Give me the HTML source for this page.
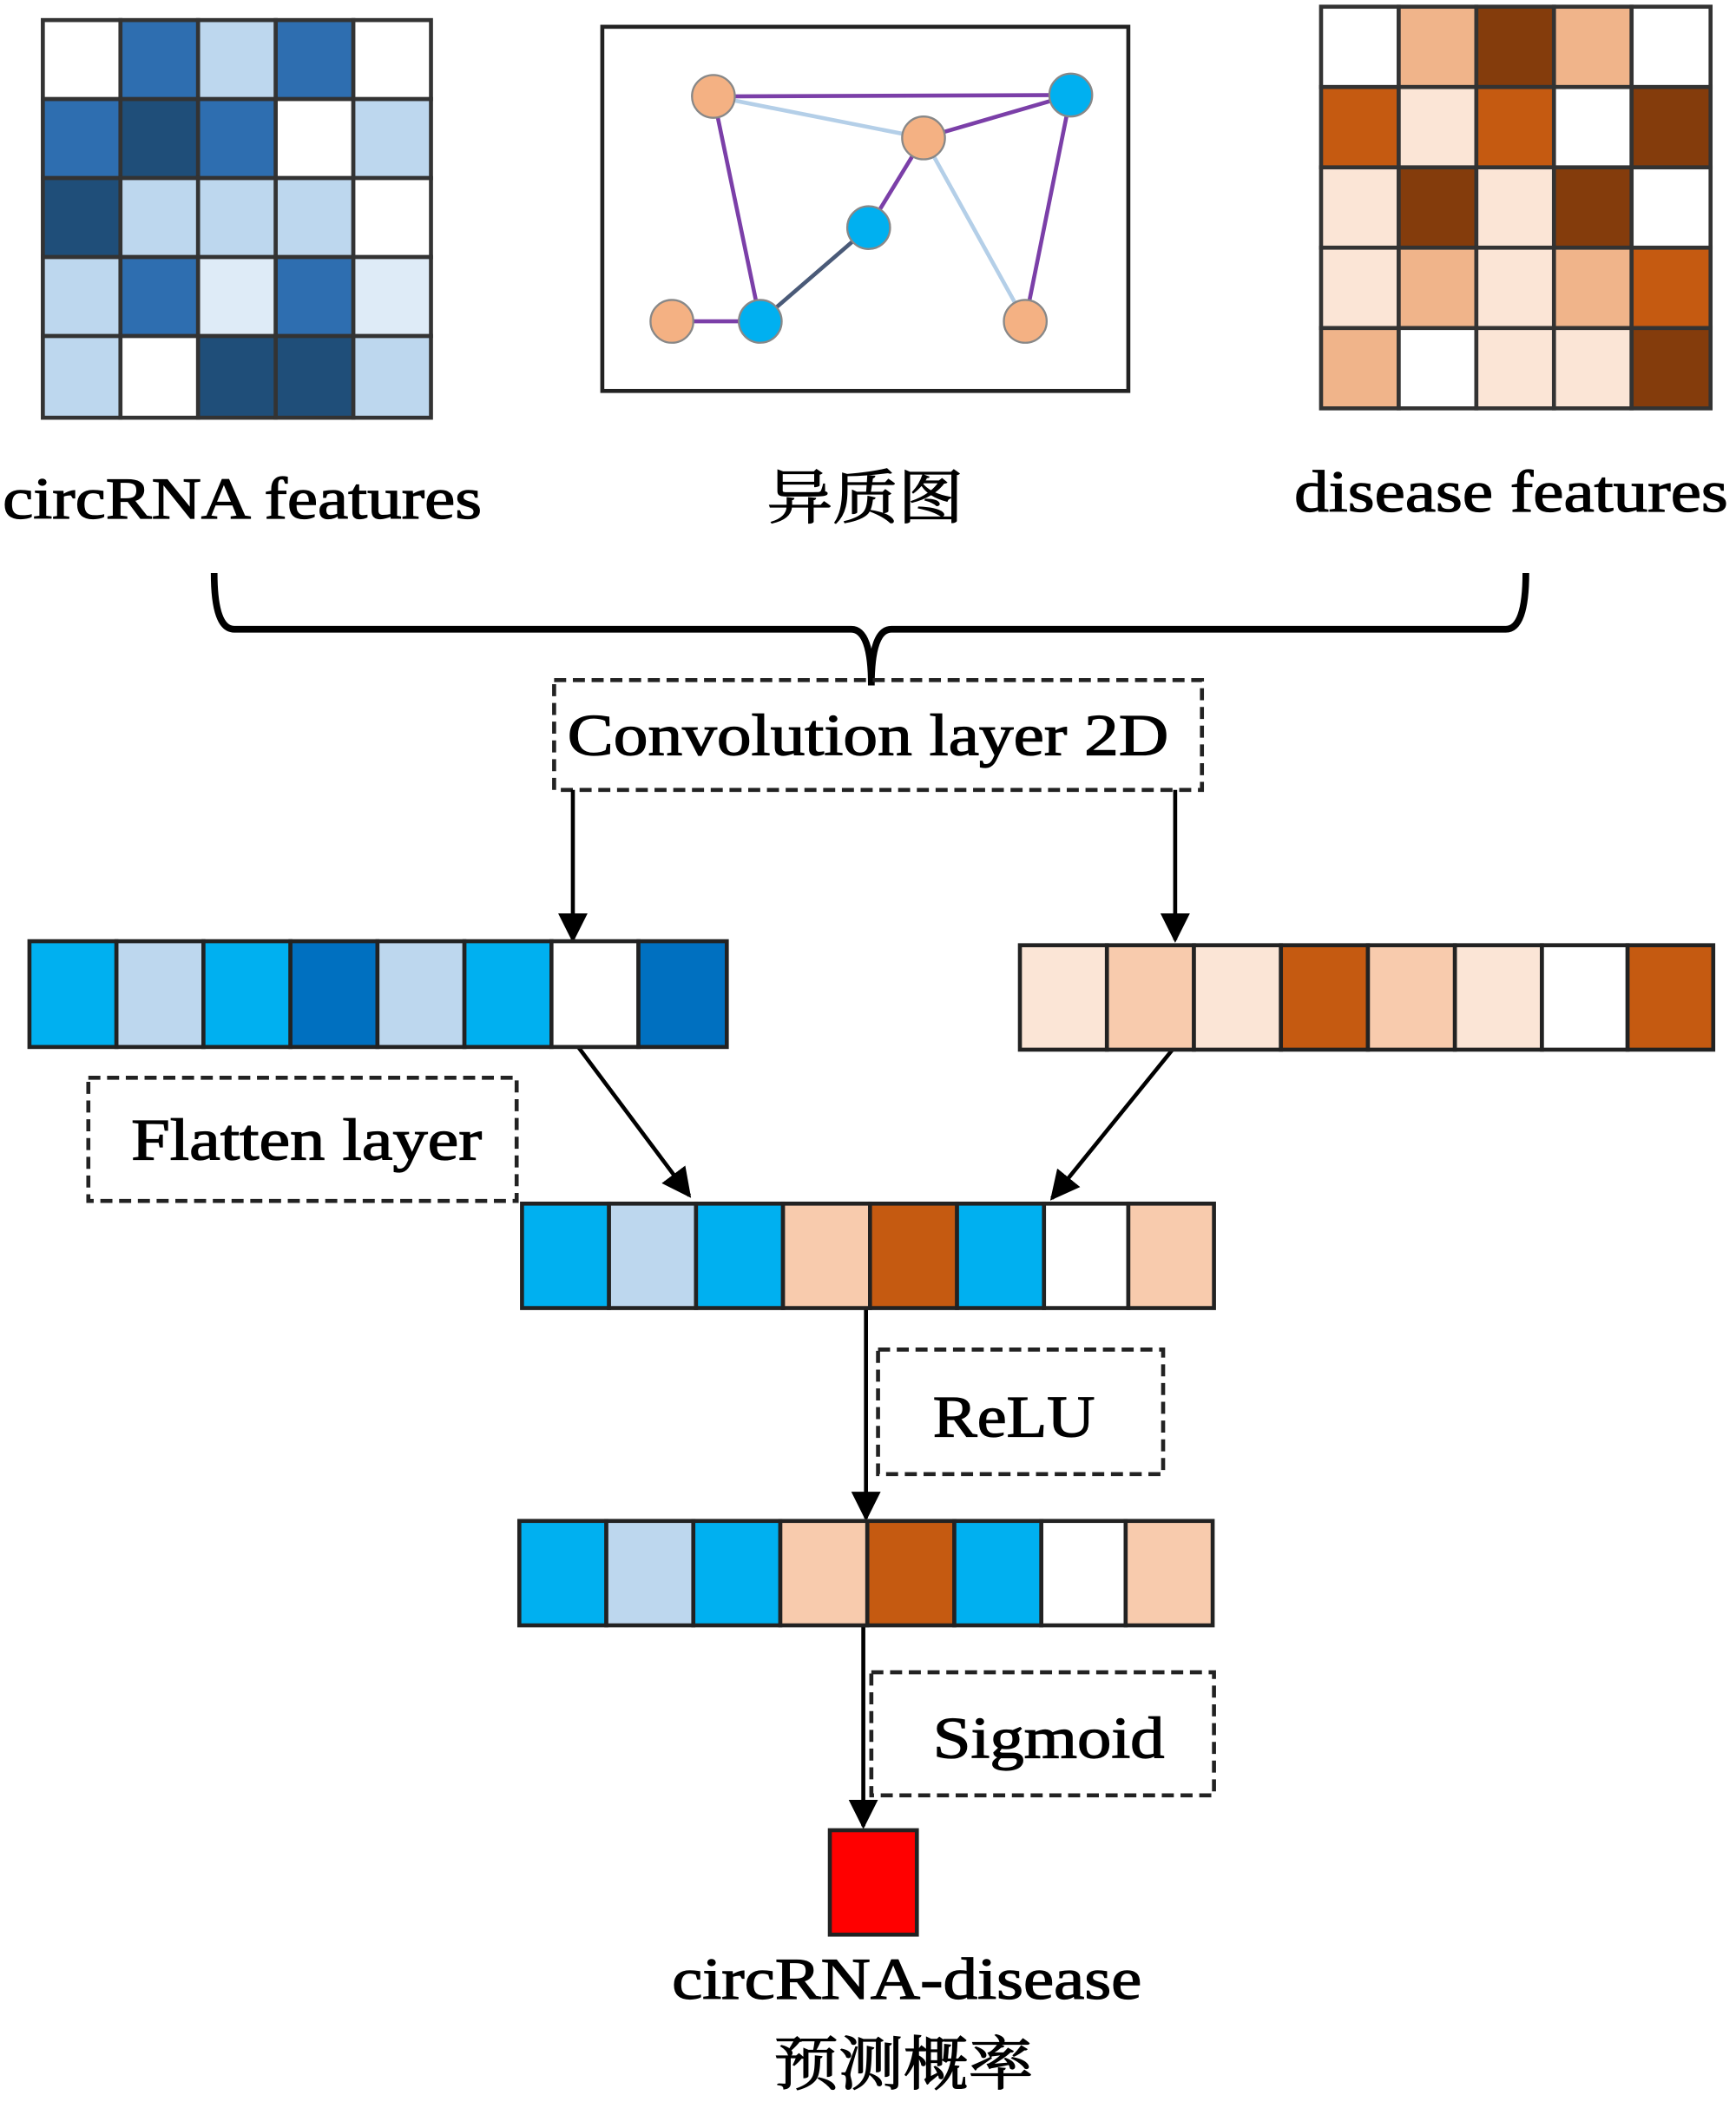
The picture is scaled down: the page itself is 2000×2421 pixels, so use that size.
<!DOCTYPE html>
<html><head><meta charset="utf-8"><style>html,body{margin:0;padding:0;background:#fff}svg{display:block}</style></head>
<body>
<svg width="2000" height="2421" viewBox="0 0 1297 1570" preserveAspectRatio="none" xmlns="http://www.w3.org/2000/svg" font-family="'Liberation Serif','Noto Serif CJK SC',serif">
<defs>
<marker id="a2" viewBox="0 0 10 10" markerWidth="22" markerHeight="22" refX="9" refY="5" orient="auto" markerUnits="userSpaceOnUse"><path d="M0,0 L10,5 L0,10 z" fill="#000"/></marker></defs>
<g stroke="#333" stroke-width="3">
<g transform="translate(32,15)">
<rect x="0" y="0" width="58" height="59" fill="#fff"/><rect x="58" y="0" width="58" height="59" fill="#2e6eb0"/><rect x="116" y="0" width="58" height="59" fill="#bdd7ee"/><rect x="174" y="0" width="58" height="59" fill="#2e6eb0"/><rect x="232" y="0" width="58" height="59" fill="#fff"/>
<rect x="0" y="59" width="58" height="59" fill="#2e6eb0"/><rect x="58" y="59" width="58" height="59" fill="#1f4e79"/><rect x="116" y="59" width="58" height="59" fill="#2e6eb0"/><rect x="174" y="59" width="58" height="59" fill="#fff"/><rect x="232" y="59" width="58" height="59" fill="#bdd7ee"/>
<rect x="0" y="118" width="58" height="59" fill="#1f4e79"/><rect x="58" y="118" width="58" height="59" fill="#bdd7ee"/><rect x="116" y="118" width="58" height="59" fill="#bdd7ee"/><rect x="174" y="118" width="58" height="59" fill="#bdd7ee"/><rect x="232" y="118" width="58" height="59" fill="#fff"/>
<rect x="0" y="177" width="58" height="59" fill="#bdd7ee"/><rect x="58" y="177" width="58" height="59" fill="#2e6eb0"/><rect x="116" y="177" width="58" height="59" fill="#deebf7"/><rect x="174" y="177" width="58" height="59" fill="#2e6eb0"/><rect x="232" y="177" width="58" height="59" fill="#deebf7"/>
<rect x="0" y="236" width="58" height="61" fill="#bdd7ee"/><rect x="58" y="236" width="58" height="61" fill="#fff"/><rect x="116" y="236" width="58" height="61" fill="#1f4e79"/><rect x="174" y="236" width="58" height="61" fill="#1f4e79"/><rect x="232" y="236" width="58" height="61" fill="#bdd7ee"/>
</g>
<g transform="translate(987,5)">
<rect x="0" y="0" width="58" height="60" fill="#fff"/><rect x="58" y="0" width="58" height="60" fill="#f0b48a"/><rect x="116" y="0" width="58" height="60" fill="#843c0c"/><rect x="174" y="0" width="58" height="60" fill="#f0b48a"/><rect x="232" y="0" width="59" height="60" fill="#fff"/>
<rect x="0" y="60" width="58" height="60" fill="#c55a11"/><rect x="58" y="60" width="58" height="60" fill="#fbe5d6"/><rect x="116" y="60" width="58" height="60" fill="#c55a11"/><rect x="174" y="60" width="58" height="60" fill="#fff"/><rect x="232" y="60" width="59" height="60" fill="#843c0c"/>
<rect x="0" y="120" width="58" height="60" fill="#fbe5d6"/><rect x="58" y="120" width="58" height="60" fill="#843c0c"/><rect x="116" y="120" width="58" height="60" fill="#fbe5d6"/><rect x="174" y="120" width="58" height="60" fill="#843c0c"/><rect x="232" y="120" width="59" height="60" fill="#fff"/>
<rect x="0" y="180" width="58" height="60" fill="#fbe5d6"/><rect x="58" y="180" width="58" height="60" fill="#f0b48a"/><rect x="116" y="180" width="58" height="60" fill="#fbe5d6"/><rect x="174" y="180" width="58" height="60" fill="#f0b48a"/><rect x="232" y="180" width="59" height="60" fill="#c55a11"/>
<rect x="0" y="240" width="58" height="60" fill="#f0b48a"/><rect x="58" y="240" width="58" height="60" fill="#fff"/><rect x="116" y="240" width="58" height="60" fill="#fbe5d6"/><rect x="174" y="240" width="58" height="60" fill="#fbe5d6"/><rect x="232" y="240" width="59" height="60" fill="#843c0c"/>
</g>
</g>
<rect x="450" y="20" width="393" height="272" fill="#fff" stroke="#222" stroke-width="3"/>
<g stroke-width="3">
<line x1="533" y1="72" x2="690" y2="103" stroke="#b4cfe8"/>
<line x1="690" y1="103" x2="766" y2="240" stroke="#b4cfe8"/>
<line x1="533" y1="72" x2="800" y2="71" stroke="#7b3fa8"/>
<line x1="533" y1="72" x2="568" y2="240" stroke="#7b3fa8"/>
<line x1="690" y1="103" x2="800" y2="71" stroke="#7b3fa8"/>
<line x1="800" y1="71" x2="766" y2="240" stroke="#7b3fa8"/>
<line x1="690" y1="103" x2="649" y2="170" stroke="#7b3fa8"/>
<line x1="649" y1="170" x2="568" y2="240" stroke="#4a5a78"/>
<line x1="502" y1="240" x2="568" y2="240" stroke="#7b3fa8"/>
</g>
<g stroke="#888" stroke-width="1.5">
<circle cx="533" cy="72" r="16" fill="#f4b183"/><circle cx="800" cy="71" r="16" fill="#00b0f0"/><circle cx="690" cy="103" r="16" fill="#f4b183"/><circle cx="649" cy="170" r="16" fill="#00b0f0"/><circle cx="502" cy="240" r="16" fill="#f4b183"/><circle cx="568" cy="240" r="16" fill="#00b0f0"/><circle cx="766" cy="240" r="16" fill="#f4b183"/>
</g>
<g font-size="44" fill="#000" stroke="#000" stroke-width="0.8" lengthAdjust="spacingAndGlyphs">
<text x="2" y="387" textLength="358" lengthAdjust="spacingAndGlyphs">circRNA features</text>
<text x="573" y="387" textLength="147" lengthAdjust="spacingAndGlyphs">异质图</text>
<text x="967" y="382" textLength="324" lengthAdjust="spacingAndGlyphs">disease features</text>
<text x="424" y="564" textLength="449" lengthAdjust="spacingAndGlyphs">Convolution layer 2D</text>
<text x="98" y="866" textLength="262" lengthAdjust="spacingAndGlyphs">Flatten layer</text>
<text x="697" y="1073" textLength="121" lengthAdjust="spacingAndGlyphs">ReLU</text>
<text x="697" y="1313" textLength="173" lengthAdjust="spacingAndGlyphs">Sigmoid</text>
<text x="502" y="1493" textLength="351" lengthAdjust="spacingAndGlyphs">circRNA-disease</text>
<text x="578" y="1557" textLength="194" lengthAdjust="spacingAndGlyphs">预测概率</text>
</g>
<path d="M160,428 Q160,470 175,470 L636,470 Q651,470 651,512 Q651,470 666,470 L1125,470 Q1140,470 1140,428" fill="none" stroke="#000" stroke-width="5"/>
<g fill="none" stroke="#222" stroke-width="3" stroke-dasharray="9,5">
<rect x="414" y="508" width="484" height="82"/>
<rect x="66" y="805" width="320" height="92"/>
<rect x="656" y="1008" width="213" height="93"/>
<rect x="651" y="1249" width="256" height="92"/>
</g>
<g stroke="#000" stroke-width="3" marker-end="url(#a2)">
<line x1="428" y1="590" x2="428" y2="702"/>
<line x1="878" y1="590" x2="878" y2="702"/>
<line x1="432" y1="782" x2="515" y2="893"/>
<line x1="876" y1="784" x2="786" y2="895"/>
<line x1="647" y1="977" x2="647" y2="1134"/>
<line x1="645" y1="1214" x2="645" y2="1364"/>
</g>
<g stroke="#222" stroke-width="3">
<g transform="translate(22,703)">
<rect x="0" width="65" height="79" fill="#00b0f0"/><rect x="65" width="65" height="79" fill="#bdd7ee"/><rect x="130" width="65" height="79" fill="#00b0f0"/><rect x="195" width="65" height="79" fill="#0070c0"/><rect x="260" width="65" height="79" fill="#bdd7ee"/><rect x="325" width="65" height="79" fill="#00b0f0"/><rect x="390" width="65" height="79" fill="#fff"/><rect x="455" width="66" height="79" fill="#0070c0"/>
</g>
<g transform="translate(762,706)">
<rect x="0" width="65" height="78" fill="#fbe5d6"/><rect x="65" width="65" height="78" fill="#f8cbad"/><rect x="130" width="65" height="78" fill="#fbe5d6"/><rect x="195" width="65" height="78" fill="#c55a11"/><rect x="260" width="65" height="78" fill="#f8cbad"/><rect x="325" width="65" height="78" fill="#fbe5d6"/><rect x="390" width="64" height="78" fill="#fff"/><rect x="454" width="64" height="78" fill="#c55a11"/>
</g>
<g transform="translate(390,899)">
<rect x="0" width="65" height="78" fill="#00b0f0"/><rect x="65" width="65" height="78" fill="#bdd7ee"/><rect x="130" width="65" height="78" fill="#00b0f0"/><rect x="195" width="65" height="78" fill="#f8cbad"/><rect x="260" width="65" height="78" fill="#c55a11"/><rect x="325" width="65" height="78" fill="#00b0f0"/><rect x="390" width="63" height="78" fill="#fff"/><rect x="453" width="64" height="78" fill="#f8cbad"/>
</g>
<g transform="translate(388,1136)">
<rect x="0" width="65" height="78" fill="#00b0f0"/><rect x="65" width="65" height="78" fill="#bdd7ee"/><rect x="130" width="65" height="78" fill="#00b0f0"/><rect x="195" width="65" height="78" fill="#f8cbad"/><rect x="260" width="65" height="78" fill="#c55a11"/><rect x="325" width="65" height="78" fill="#00b0f0"/><rect x="390" width="63" height="78" fill="#fff"/><rect x="453" width="65" height="78" fill="#f8cbad"/>
</g>
<rect x="620" y="1367" width="65" height="78" fill="#ff0000"/>
</g>
</svg>
</body></html>
